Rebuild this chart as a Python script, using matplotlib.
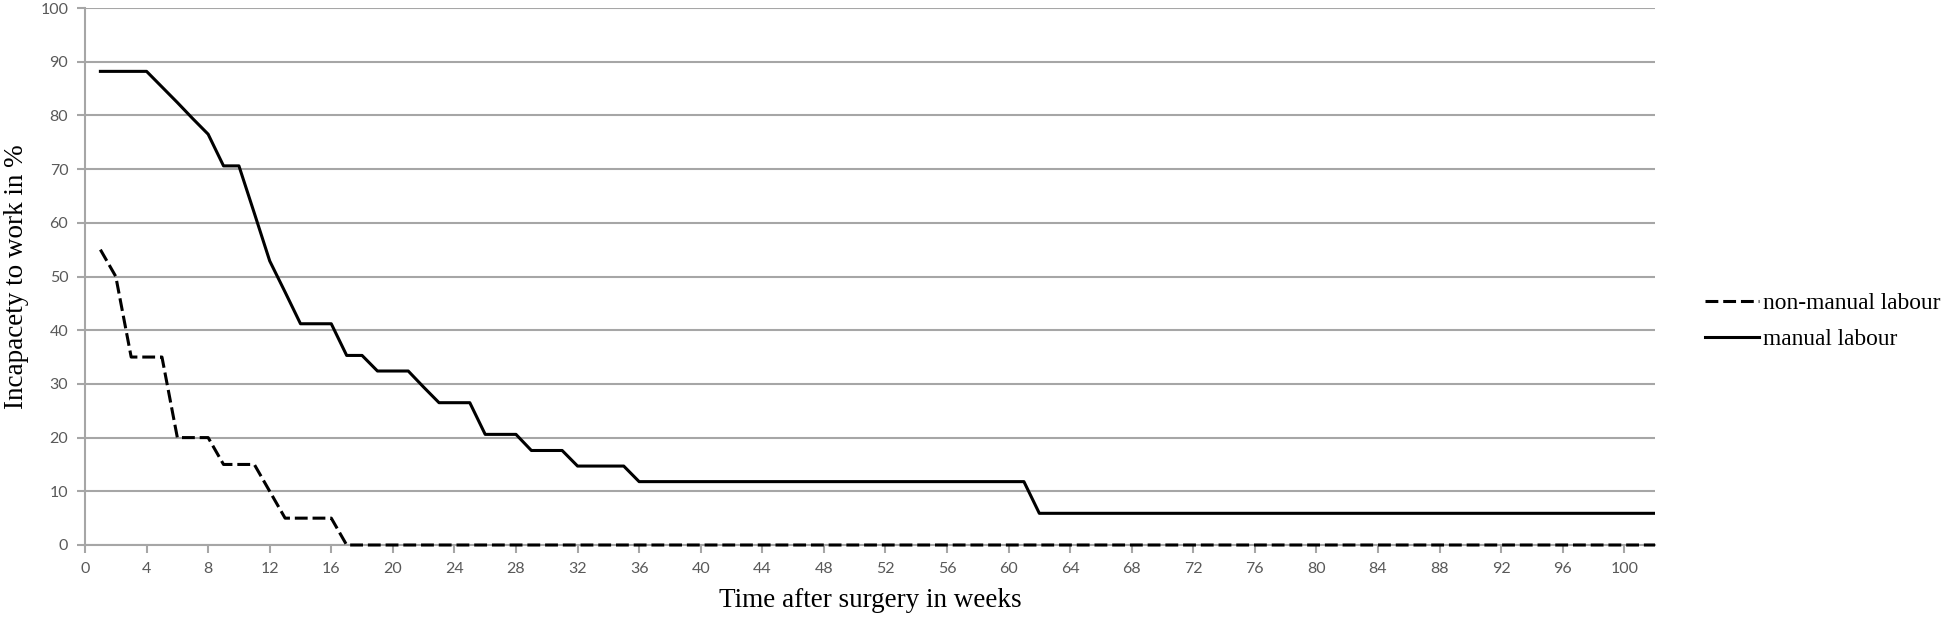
import matplotlib
matplotlib.use("Agg")
import matplotlib.pyplot as plt
import numpy as np

# ============================
# Datos
# ============================
semanas = list(range(1, 103))

manual = ([88.2] * 4 + [85.3, 82.4, 79.4, 76.5] + [70.6] * 2 + [61.8, 52.9, 47.1]
          + [41.2] * 3 + [35.3] * 2 + [32.4] * 3 + [29.4] + [26.5] * 3
          + [20.6] * 3 + [17.6] * 3 + [14.7] * 4 + [11.8] * 26 + [5.9] * 41)

no_manual = ([55, 50] + [35] * 3 + [20] * 3 + [15] * 3 + [10] + [5] * 4 + [0] * 86)

x_ticks = list(range(0, 101, 4))
y_ticks = list(range(0, 101, 10))

etiqueta_no_manual = "non-manual labour"
etiqueta_manual = "manual labour"

# ============================
# Figura
# ============================
gris = "#a6a6a6"
serif = ["Liberation Serif", "DejaVu Serif"]

fig = plt.figure(figsize=(19.46, 6.27), dpi=100)
ax = fig.add_axes([85 / 1946, 1 - 545 / 627, (1655 - 85) / 1946, (545 - 8) / 627])

ax.plot(semanas, no_manual, color="black", lw=2.2, dashes=(4.2, 1.6),
        label=etiqueta_no_manual, zorder=3, clip_on=False)
ax.plot(semanas, manual, color="black", lw=2.2, label=etiqueta_manual, zorder=3)

ax.set_xlim(0, 102)
ax.set_ylim(0, 100)
ax.set_xticks(x_ticks)
ax.set_yticks(y_ticks)
ax.yaxis.grid(True, color=gris, lw=1.5)
ax.set_axisbelow(True)

for lado in ["top", "right"]:
    ax.spines[lado].set_visible(False)
for lado in ["left", "bottom"]:
    ax.spines[lado].set_color(gris)
    ax.spines[lado].set_linewidth(1.5)

ax.tick_params(axis="both", direction="out", length=6, width=1.5, color=gris,
               labelcolor="#595959", labelsize=11.5, pad=6)
for t in ax.get_xticklabels() + ax.get_yticklabels():
    t.set_fontfamily(["Lato", "DejaVu Sans"])

ax.set_xlabel("Time after surgery in weeks", fontsize=19.5, family=serif, labelpad=9)
ax.set_ylabel("Incapacety to work in %", fontsize=19.5, family=serif, labelpad=8)

fig.legend(loc="upper left", bbox_to_anchor=(1705 / 1946, 1 - 293 / 627),
           frameon=False, borderpad=0, borderaxespad=0, handlelength=2.3,
           handletextpad=0.2, labelspacing=0.62,
           prop={"family": serif, "size": 16.8})

plt.savefig("out.png", dpi=100)
